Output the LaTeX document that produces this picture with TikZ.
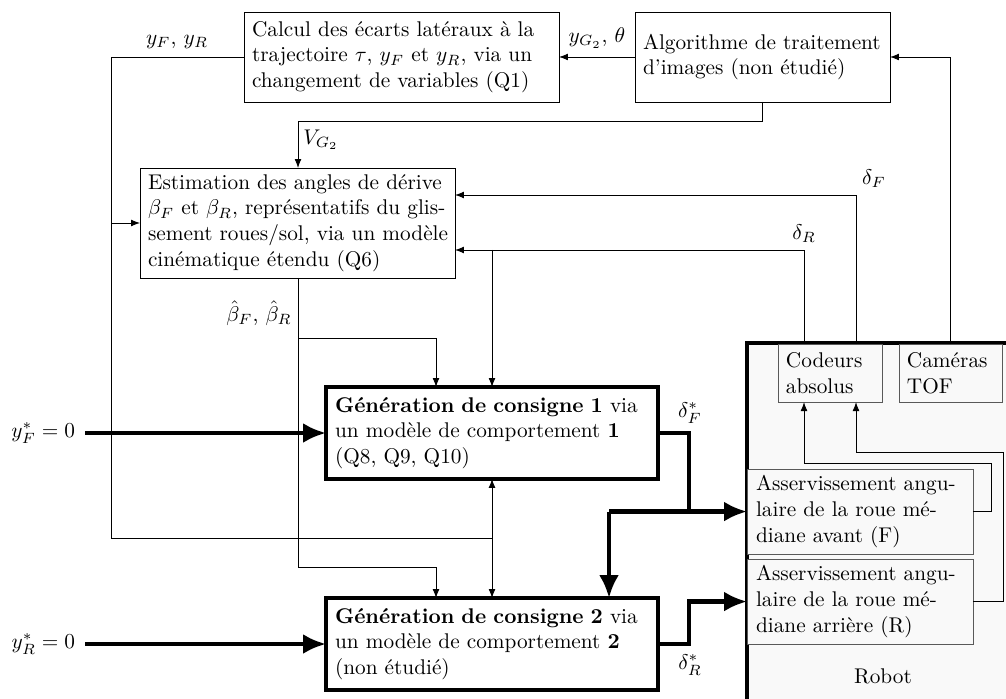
\documentclass[tikz,border=0pt]{standalone}
\usetikzlibrary{arrows.meta}
\begin{document}
\begin{tikzpicture}[x=0.47pt,y=-0.47pt,
  box/.style={draw, line width=0.4pt, inner sep=0pt, outer sep=0pt, align=left, anchor=north west, fill=white},
  gbox/.style={box, line width=2pt},
  rbox/.style={box, draw=black!65, fill=gray!5},
  sig/.style={line width=0.4pt},
  arr/.style={sig, -{Latex[length=4.2pt,width=3.2pt]}},
  big/.style={line width=2pt},
  bigarr/.style={big, -{Latex[length=10.8pt,width=9.4pt]}},
  lbl/.style={inner sep=0pt}]
\useasboundingbox (0,0) rectangle (1006,699);

% Robot
\begin{scope}
\clip (0,0) rectangle (1006,699);
\node[draw, line width=2pt, fill=gray!5, anchor=north west, minimum width=150pt, minimum height=180pt, inner sep=0pt, outer sep=0pt] (robot) at (747,343) {};
\end{scope}
\node[lbl] (robotlbl) at (883,676) {Robot};

% Boxes
\node[box, minimum width=148.05pt, text width=140.5pt, minimum height=42.3pt] (A) at (244,12)
 {Calcul des écarts latéraux à la\\ trajectoire $\tau$, $y_F$ et $y_R$, via un\\ changement de variables (Q1)};
\node[box, minimum width=119.85pt, text width=112.3pt, minimum height=42.3pt] (B) at (635,12)
 {Algorithme de traitement\\ d'images (non étudié)};
\node[box, minimum width=148.05pt, text width=140.5pt, minimum height=51.7pt] (C) at (140,168)
 {\mbox{Estimation des angles de dérive}\\ \mbox{$\beta_F$ et $\beta_R$, représentatifs du glis-}\\ \mbox{sement roues/sol, via un modèle}\\ \mbox{cinématique étendu (Q6)}};
\node[gbox, minimum width=156pt, text width=147.5pt, minimum height=43.2pt] (G1) at (326,387)
 {\textbf{Génération de consigne 1} via\\ un modèle de comportement \textbf{1}\\ (Q8, Q9, Q10)};
\node[gbox, minimum width=156pt, text width=147.5pt, minimum height=43.2pt] (G2) at (326,598)
 {\textbf{Génération de consigne 2} via\\ un modèle de comportement \textbf{2}\\ (non étudié)};
\node[rbox, minimum width=48.9pt, text width=41.4pt, minimum height=27.3pt] (Cod) at (778,344)
 {Codeurs\\ absolus};
\node[rbox, minimum width=48.4pt, text width=40.9pt, minimum height=27.3pt] (Cam) at (899,344)
 {Caméras\\ TOF};
\node[rbox, minimum width=106.2pt, text width=97.7pt, minimum height=40pt] (AF) at (747,469)
 {\mbox{Asservissement angu-}\\ \mbox{laire de la roue mé-}\\ \mbox{diane avant (F)}};
\node[rbox, minimum width=106.2pt, text width=97.7pt, minimum height=40pt] (AR) at (747,559)
 {\mbox{Asservissement angu-}\\ \mbox{laire de la roue mé-}\\ \mbox{diane arrière (R)}};

% Inputs
\node[lbl, anchor=east, inner sep=4.5pt] (yF) at (85,433) {$y_F^*=0$};
\node[lbl, anchor=east, inner sep=4.5pt] (yR) at (85,644) {$y_R^*=0$};

% coordinates
\coordinate (ya) at (111,538);
\coordinate (yb) at (492,538);
\coordinate (vg) at (298,121);
\coordinate (dF) at (856,195);
\coordinate (dR) at (804,250);
\coordinate (bh1) at (436,338);
\coordinate (bh2) at (436,567);
\coordinate (sF) at (689,0 |- AF.west);
\coordinate (sF2) at (609,0 |- AF.west);
\coordinate (sR) at (689,0 |- AR.west);
\coordinate (c1) at (991,463);
\coordinate (c2) at (1003,452);

% thin connectors
\draw[arr] (B.west) -- (A.east);
\draw[sig] (A.west) -| (ya) -- (yb);
\draw[arr] (ya |- C.west) -- (C.west);
\draw[arr] (yb) -- (yb |- G1.south);
\draw[arr] (yb) -- (yb |- G2.north);
\draw[arr] (B.south) |- (vg) -- (vg |- C.north);
\draw[arr] (Cod.north -| dF) |- (C.east |- dF);
\draw[arr] (Cod.north -| dR) |- (C.east |- dR);
\draw[arr] (yb |- dR) -- (yb |- G1.north);
\draw[arr] (Cam.north) |- (B.east);
\draw[arr] (vg |- C.south) |- (bh2) -- (bh2 |- G2.north);
\draw[arr] (vg |- bh1) -- (bh1) -- (bh1 |- G1.north);
\draw[arr] (AF.east) -| (c1) -| (Cod.south -| dR);
\draw[arr] (AR.east) -| (c2) -| (Cod.south -| dF);

% thick connectors
\draw[bigarr] (yF.east) -- (yF.east -| G1.west);
\draw[bigarr] (yR.east) -- (yR.east -| G2.west);
\draw[big] (G1.east) -| (sF);
\draw[bigarr] (sF2) -- (AF.west);
\draw[bigarr] (sF2) -- (sF2 |- G2.north);
\draw[bigarr] (G2.east) -| (sR) -- (AR.west);

% labels
\node[lbl] (lyFR) at (177,42) {$y_F$, $y_R$};
\node[lbl] (lyG) at (597,38) {$y_{G_2}$, $\theta$};
\node[lbl] (lVG) at (321,140) {$V_{G_2}$};
\node[lbl] (ldF) at (874,179) {$\delta_F$};
\node[lbl] (ldR) at (804,234) {$\delta_R$};
\node[lbl] (lbh) at (259,313) {$\hat\beta_F$, $\hat\beta_R$};
\node[lbl] (ldFs) at (690,413) {$\delta_F^*$};
\node[lbl] (ldRs) at (690,665) {$\delta_R^*$};
\end{tikzpicture}
\end{document}
